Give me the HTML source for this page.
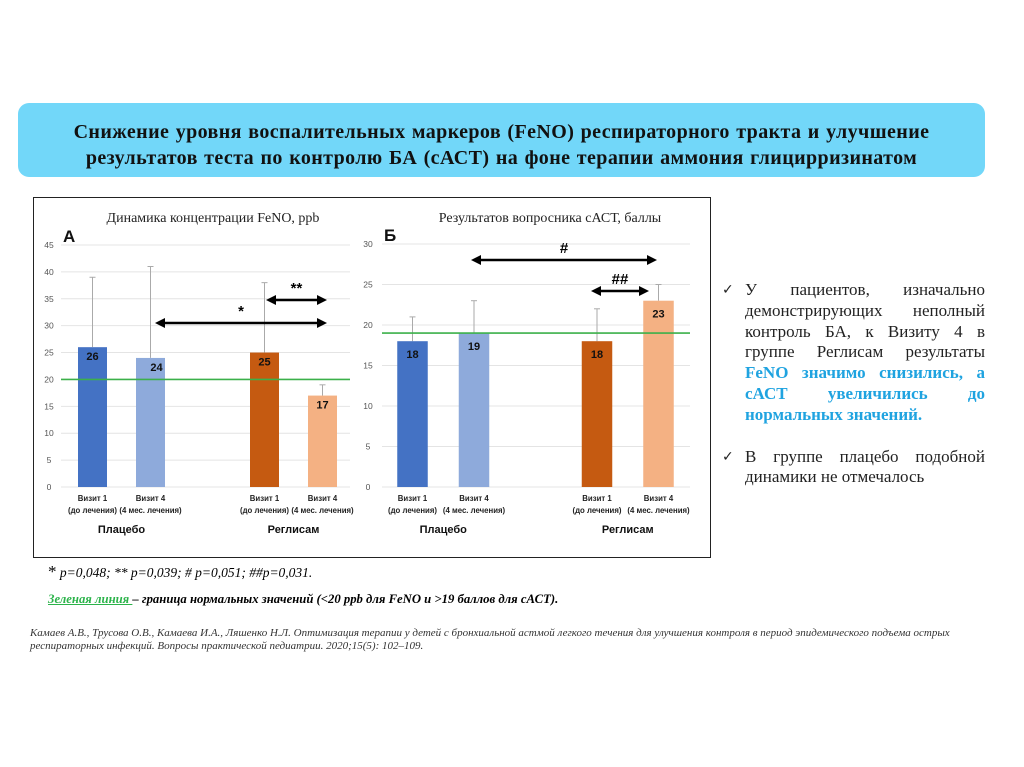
<!DOCTYPE html>
<html><head><meta charset="utf-8">
<style>
body{margin:0;width:1024px;height:767px;background:#fff;position:relative;overflow:hidden;font-family:"Liberation Serif","Noto Serif CJK SC",serif;}
#hdr{position:absolute;left:18px;top:103px;width:967px;height:74px;background:#72d7f9;border-radius:11px;text-align:center;font-weight:bold;font-size:20px;line-height:26px;padding-top:16px;box-sizing:border-box;color:#111;letter-spacing:0.4px;word-spacing:1px;}
#frame{position:absolute;left:33px;top:197px;width:678px;height:361px;border:1.5px solid #222;box-sizing:border-box;}
#side{position:absolute;left:722px;top:280px;width:263px;font-size:17px;line-height:20.8px;color:#222;}
.it{position:relative;padding-left:23px;text-align:justify;}
.it:before{content:"✓";position:absolute;left:0;top:0;font-size:14px;font-family:"DejaVu Sans",sans-serif;}
.bl{color:#1fa3e0;font-weight:bold;}
.fn{position:absolute;font-style:italic;}
</style></head><body>
<div id="hdr">Снижение уровня воспалительных маркеров (FeNO) респираторного тракта и улучшение<br>результатов теста по контролю БА (сАСТ) на фоне терапии аммония глицирризинатом</div>
<div id="frame"></div>
<svg id="chart" width="1024" height="767" style="position:absolute;left:0;top:0"></svg>
<div id="side">
<div class="it">У пациентов, изначально демонстрирующих неполный контроль БА, к Визиту 4 в группе Реглисам результаты <span class="bl">FeNO значимо снизились, а сАСТ увеличились до нормальных значений.</span></div>
<div class="it" style="margin-top:21px">В группе плацебо подобной динамики не отмечалось</div>
</div>
<div class="fn" style="left:48px;top:562px;font-size:13.5px"><span style="font-style:normal;font-size:17px">*</span> p=0,048; ** p=0,039; # p=0,051; ##p=0,031.</div>
<div class="fn" style="left:48px;top:592px;font-size:12.7px;font-weight:bold"><span style="color:#2bb34a;text-decoration:underline">Зеленая линия </span>– граница нормальных значений (&lt;20 ppb для FeNO и &gt;19 баллов для сАСТ).</div>
<div class="fn" style="left:30px;top:627px;font-size:11px;line-height:13px;color:#333;width:990px">Камаев А.В., Трусова О.В., Камаева И.А., Ляшенко Н.Л. Оптимизация терапии у детей с бронхиальной астмой легкого течения для улучшения контроля в период эпидемического подъема острых<br>респираторных инфекций. Вопросы практической педиатрии. 2020;15(5): 102–109.</div>
<script>
const catsTop=["Визит 1","Визит 4","Визит 1","Визит 4"];
const catsBot=["(до лечения)","(4 мес. лечения)","(до лечения)","(4 мес. лечения)"];
const groups=["Плацебо","Реглисам"];
const fenoVals=[26,24,25,17];
const fenoErr=[39,41,38,19];
const fenoTicks=[0,5,10,15,20,25,30,35,40,45];
const fenoNorm=20;
const actVals=[18,19,18,23];
const actErr=[21,23,22,25];
const actTicks=[0,5,10,15,20,25,30];
const actNorm=19;
const colors=["#4472c4","#8eaadb","#c55a11","#f4b183"];
const svg=document.getElementById('chart');
const NS="http://www.w3.org/2000/svg";
function mk(t,a,txt){const e=document.createElementNS(NS,t);for(const k in a)e.setAttribute(k,a[k]);if(txt!==undefined)e.textContent=txt;svg.appendChild(e);return e;}
function arrow(x1,x2,y,label){
 let l=mk('line',{x1:x1+8,x2:x2-8,y1:y,y2:y,stroke:'#000','stroke-width':2.5});
 
 mk('polygon',{points:`${x1},${y} ${x1+10},${y-5} ${x1+10},${y+5}`,fill:'#000'});
 mk('polygon',{points:`${x2},${y} ${x2-10},${y-5} ${x2-10},${y+5}`,fill:'#000'});
 let t=mk('text',{x:(x1+x2)/2,y:y-7,'text-anchor':'middle','font-size':15,'font-weight':'bold','font-family':'Liberation Sans, sans-serif'},label);
 
}
function chart(o){
 const y=v=>o.y0-(v-o.ticks[0])/(o.ticks[o.ticks.length-1]-o.ticks[0])*(o.y0-o.yTop);
 o.ticks.forEach(t=>{
  let g=mk('line',{x1:o.gx1,x2:o.gx2,y1:y(t),y2:y(t),stroke:'#e4e4e4','stroke-width':1});
  
  let tl=mk('text',{x:o.tx,y:y(t)+3,'text-anchor':'middle','font-size':8.5,fill:'#555','font-family':'Liberation Sans, sans-serif'},t);
  
 });
 o.vals.forEach((v,i)=>{
  const cx=o.xs[i],w=o.bw;
  let e=mk('line',{x1:cx,x2:cx,y1:y(o.err[i]),y2:y(v),stroke:'#aaa','stroke-width':1});
  
  mk('line',{x1:cx-3,x2:cx+3,y1:y(o.err[i]),y2:y(o.err[i]),stroke:'#aaa','stroke-width':1});
  let b=mk('rect',{x:cx-w/2,y:y(v),width:w,height:o.y0-y(v),fill:colors[i]});
  
  let vl=mk('text',{x:cx+(o.off[i]||0),y:y(v)+o.lblDy,'text-anchor':'middle','font-size':11,'font-weight':'bold',fill:'#111','font-family':'Liberation Sans, sans-serif'},v);
  
  let c1=mk('text',{x:cx,y:o.y0+14,'text-anchor':'middle','font-size':7.8,'font-weight':'bold',fill:'#222','font-family':'Liberation Sans, sans-serif'},catsTop[i]);
  
  let c2=mk('text',{x:cx,y:o.y0+26,'text-anchor':'middle','font-size':7.8,'font-weight':'bold',fill:'#222','font-family':'Liberation Sans, sans-serif'},catsBot[i]);
  
 });
 groups.forEach((g,k)=>{
  let gl=mk('text',{x:(o.xs[2*k]+o.xs[2*k+1])/2,y:o.y0+46,'text-anchor':'middle','font-size':11,'font-weight':'bold',fill:'#111','font-family':'Liberation Sans, sans-serif'},g);
  
 });
 let n=mk('line',{x1:o.gx1,x2:o.gx2,y1:y(o.norm),y2:y(o.norm),stroke:'#3cb04a','stroke-width':1.6});
 
 let ti=mk('text',{x:o.titleX,y:o.titleY,'text-anchor':'middle','font-size':14,fill:'#222','font-family':'Liberation Serif, serif'},o.title);
 
 let le=mk('text',{x:o.letterX,y:o.letterY,'font-size':17,'font-weight':'bold',fill:'#111','font-family':'Liberation Sans, sans-serif'},o.letter);
 
 return y;
}
chart({id:'feno',vals:fenoVals,err:fenoErr,ticks:fenoTicks,norm:fenoNorm,y0:487,yTop:245,gx1:61,gx2:350,tx:49,xs:[92.5,150.5,264.5,322.5],bw:29,off:[0,6,0,0],lblDy:13,
 title:'Динамика концентрации FeNO, ppb',titleX:213,titleY:222,letter:'А',letterX:63,letterY:242});
chart({id:'act',vals:actVals,err:actErr,ticks:actTicks,norm:actNorm,y0:487,yTop:244,gx1:382,gx2:690,tx:368,xs:[412.5,474,597,658.5],bw:30.5,off:[0,0,0,0],lblDy:17,
 title:'Результатов вопросника сАСТ, баллы',titleX:550,titleY:222,letter:'Б',letterX:384,letterY:241});
arrow(155,327,323,'*');
arrow(266,327,300,'**');
arrow(471,657,260,'#');
arrow(591,649,291,'##');
</script>
</body></html>
